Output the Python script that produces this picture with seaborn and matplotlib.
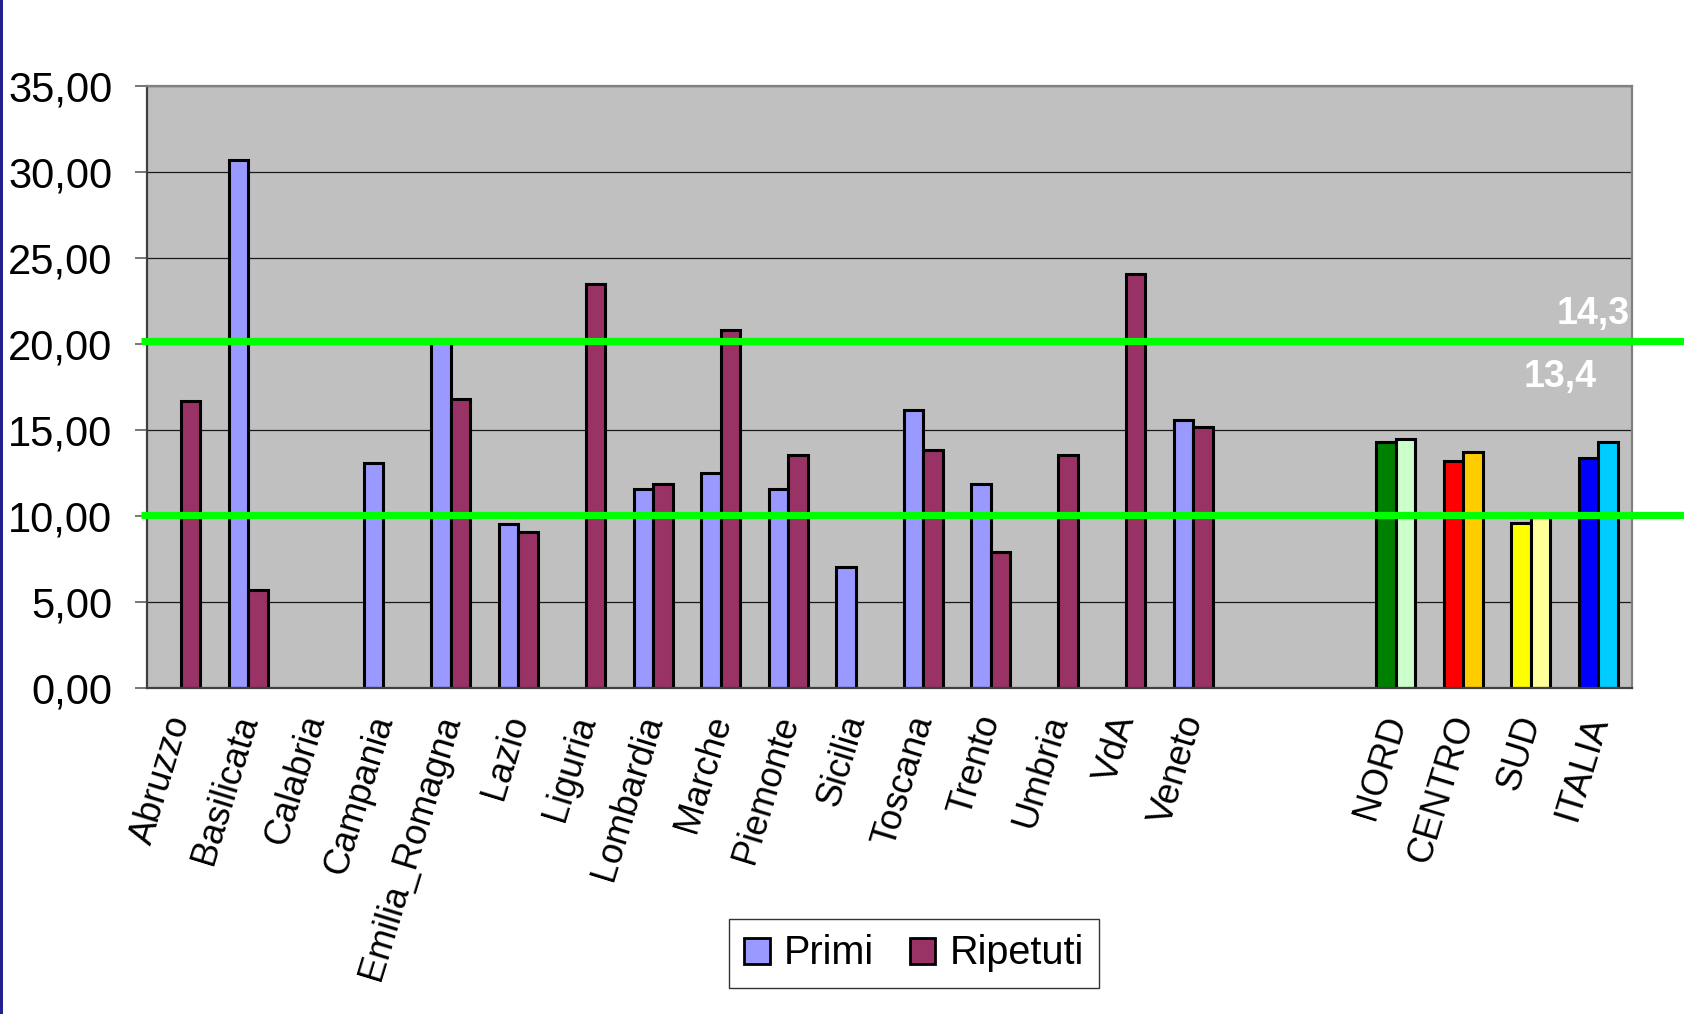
import numpy as np
import pandas as pd
import matplotlib
matplotlib.use("Agg")
import matplotlib.pyplot as plt
import matplotlib.transforms as mtransforms
from matplotlib.patches import Patch, Rectangle
import seaborn as sns

# --- data -------------------------------------------------------------
categorie = ["Abruzzo", "Basilicata", "Calabria", "Campania", "Emilia_Romagna",
             "Lazio", "Liguria", "Lombardia", "Marche", "Piemonte", "Sicilia",
             "Toscana", "Trento", "Umbria", "VdA", "Veneto",
             " ", "  ",
             "NORD", "CENTRO", "SUD", "ITALIA"]

primi = [np.nan, 30.7, np.nan, 13.1, 20.1,
         9.56, np.nan, 11.6, 12.5, 11.6, 7.05,
         16.2, 11.9, np.nan, np.nan, 15.6,
         np.nan, np.nan,
         14.3, 13.2, 9.6, 13.4]

ripetuti = [16.7, 5.7, np.nan, np.nan, 16.8,
            9.1, 23.5, 11.9, 20.8, 13.55, np.nan,
            13.85, 7.9, 13.55, 24.05, 15.2,
            np.nan, np.nan,
            14.5, 13.75, 10.0, 14.3]

serie = ["Primi", "Ripetuti"]
colori_serie = {"Primi": "#9999FF", "Ripetuti": "#993366"}

# colours for the aggregate areas (Primi, Ripetuti)
colori_aree = {
    "NORD": ("#008000", "#CCFFCC"),
    "CENTRO": ("#FF0000", "#FFCC00"),
    "SUD": ("#FFFF00", "#FFFF99"),
    "ITALIA": ("#0000FF", "#00CCFF"),
}

soglie = [20.17, 10.08]
yticks = [0, 5, 10, 15, 20, 25, 30, 35]

df = pd.DataFrame({
    "Regione": categorie * 2,
    "Serie": ["Primi"] * len(categorie) + ["Ripetuti"] * len(categorie),
    "Valore": primi + ripetuti,
})

# --- style ------------------------------------------------------------
sns.set_style("white")
plt.rcParams["font.family"] = ["Liberation Sans", "DejaVu Sans"]
plt.rcParams["text.color"] = "black"

fig = plt.figure(figsize=(16.84, 10.14), dpi=100)
ax = fig.add_axes([147 / 1684, 1 - 688.4 / 1014,
                  (1632 - 147) / 1684, (688.4 - 86) / 1014])
ax.set_facecolor("#C0C0C0")
ax.set_axisbelow(True)

sns.barplot(data=df, x="Regione", y="Valore", hue="Serie",
            order=categorie, hue_order=serie, palette=colori_serie,
            width=0.58, edgecolor="black", linewidth=2.2, saturation=1,
            errorbar=None, legend=False, ax=ax)

# recolour the aggregate bars
for k, cont in enumerate(ax.containers):
    for bar in cont:
        i = int(round(bar.get_x() + bar.get_width() / 2))
        nome = categorie[i]
        if nome in colori_aree:
            bar.set_facecolor(colori_aree[nome][k])

# --- axes -------------------------------------------------------------
ax.set_xlim(-0.5, len(categorie) - 0.5)
ax.set_ylim(0, 35)
ax.set_yticks(yticks)
ax.set_yticklabels([f"{v:.2f}".replace(".", ",") for v in yticks], fontsize=30)
ax.yaxis.grid(True, color="#1a1a1a", linewidth=0.9)
ax.xaxis.grid(False)

ax.set_xticks(range(len(categorie)))
ax.set_xticklabels([c.strip() for c in categorie], fontsize=26,
                   rotation=73, ha="right", va="center",
                   rotation_mode="anchor")
ax.set_xticks(np.arange(-0.5, len(categorie), 1.0), minor=True)
ax.tick_params(axis="x", which="major", length=0, pad=20, labelcolor="black")
ax.tick_params(axis="x", which="minor", length=9, width=1.2,
               color="#606060", direction="out")
ax.tick_params(axis="y", which="major", length=9, width=1.2,
               color="#606060", direction="out", pad=16, left=True,
               labelcolor="black")
ax.set_xlabel("")
ax.set_ylabel("")

for s in ax.spines.values():
    s.set_visible(True)
    s.set_color("#808080")
    s.set_linewidth(1.6)
ax.spines["left"].set_color("#404040")
ax.spines["bottom"].set_color("#404040")

# --- threshold lines, running to the right edge of the figure ----------
trans = mtransforms.blended_transform_factory(fig.transFigure, ax.transData)
for y in soglie:
    ax.plot([141 / 1684, 1.0], [y, y], transform=trans, color="#00FF00",
            linewidth=5.2, clip_on=False, zorder=5, solid_capstyle="butt")

# --- labels for the national values ----------------------------------
ita = categorie.index("ITALIA")
ax.text(21.46, 21.75, f"{ripetuti[ita]:.1f}".replace(".", ","),
        color="white", fontsize=27, fontweight="bold",
        ha="right", va="center", zorder=6)
ax.text(20.98, 18.1, f"{primi[ita]:.1f}".replace(".", ","),
        color="white", fontsize=27, fontweight="bold",
        ha="right", va="center", zorder=6)

# --- legend -----------------------------------------------------------
handles = [Patch(facecolor=colori_serie[s], edgecolor="black", linewidth=2.0)
           for s in serie]
leg = fig.legend(handles, serie, loc="center", ncol=2,
                 bbox_to_anchor=(914 / 1684, 1 - 953.5 / 1014),
                 fontsize=28.5, frameon=True, fancybox=False, shadow=False,
                 handlelength=0.64, handleheight=0.64, handletextpad=0.36,
                 columnspacing=0.9, borderpad=0.38, borderaxespad=0)
leg.get_frame().set_edgecolor("black")
leg.get_frame().set_linewidth(1.0)
leg.get_frame().set_facecolor("white")

# slide border on the left
fig.patches.append(Rectangle((0, 0), 2.5 / 1684, 1, transform=fig.transFigure,
                             facecolor="#22228f", edgecolor="none", zorder=10))

fig.savefig("out.png", dpi=100, facecolor="white")
